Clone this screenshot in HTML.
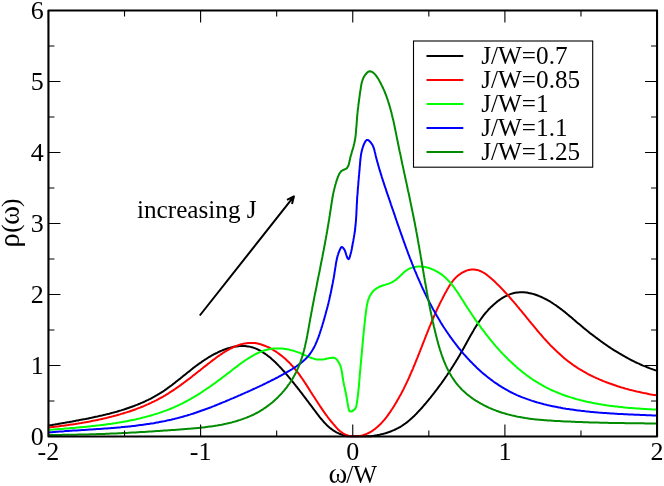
<!DOCTYPE html>
<html><head><meta charset="utf-8"><title>plot</title>
<style>
html,body{margin:0;padding:0;background:#fff;}
body{width:664px;height:486px;overflow:hidden;font-family:"Liberation Serif",serif;}
svg{display:block;will-change:transform;}
text{font-family:"Liberation Serif",serif;font-size:25.2px;fill:#000;}
.tk{font-size:26px;}
</style></head><body>
<svg width="664" height="486" viewBox="0 0 664 486">
<rect x="0" y="0" width="664" height="486" fill="#fff"/>

<g fill="none" stroke-width="2" stroke-linejoin="round" stroke-linecap="butt">
<path d="M49.1,425.6 L50.5,425.3 L51.9,425.1 L53.3,424.8 L54.8,424.6 L56.2,424.3 L57.6,424.1 L59.0,423.8 L60.5,423.5 L61.9,423.3 L63.4,423.0 L64.8,422.8 L66.3,422.5 L67.7,422.2 L69.2,422.0 L70.7,421.7 L72.1,421.5 L73.6,421.2 L75.1,420.9 L76.6,420.6 L78.0,420.4 L79.5,420.1 L81.0,419.8 L82.5,419.5 L84.0,419.2 L85.5,419.0 L87.0,418.7 L88.5,418.4 L89.9,418.1 L91.4,417.8 L92.9,417.4 L94.4,417.1 L95.9,416.8 L97.4,416.5 L98.9,416.1 L100.4,415.8 L101.9,415.5 L103.4,415.1 L104.9,414.8 L106.3,414.4 L107.8,414.0 L109.3,413.7 L110.8,413.3 L112.3,412.9 L113.7,412.5 L115.2,412.1 L116.7,411.7 L118.1,411.2 L119.6,410.8 L121.1,410.4 L122.5,409.9 L124.0,409.5 L125.4,409.0 L126.8,408.5 L128.3,408.0 L129.7,407.5 L131.1,407.0 L132.6,406.5 L134.0,406.0 L135.4,405.4 L136.8,404.9 L138.2,404.3 L139.6,403.8 L140.9,403.2 L142.3,402.6 L143.7,402.0 L145.0,401.4 L146.4,400.7 L147.7,400.1 L149.1,399.4 L150.4,398.8 L151.7,398.1 L153.0,397.4 L154.3,396.7 L155.6,395.9 L156.9,395.2 L158.2,394.4 L159.4,393.7 L160.7,392.9 L161.9,392.1 L163.2,391.3 L164.4,390.5 L165.6,389.6 L166.8,388.8 L168.0,387.9 L169.2,387.0 L170.4,386.2 L171.6,385.3 L172.7,384.4 L173.9,383.5 L175.1,382.6 L176.3,381.6 L177.4,380.7 L178.6,379.8 L179.8,378.9 L180.9,377.9 L182.1,377.0 L183.2,376.0 L184.4,375.1 L185.6,374.2 L186.7,373.2 L187.9,372.3 L189.1,371.4 L190.3,370.4 L191.4,369.5 L192.6,368.6 L193.8,367.6 L195.0,366.7 L196.2,365.8 L197.5,364.9 L198.7,364.0 L199.9,363.1 L201.2,362.3 L202.4,361.4 L203.7,360.5 L205.0,359.7 L206.3,358.9 L207.6,358.0 L208.9,357.2 L210.2,356.5 L211.5,355.7 L212.9,354.9 L214.2,354.2 L215.6,353.5 L217.0,352.8 L218.3,352.1 L219.7,351.5 L221.1,350.9 L222.5,350.3 L223.9,349.8 L225.3,349.2 L226.7,348.7 L228.1,348.3 L229.6,347.9 L231.0,347.5 L232.4,347.1 L233.8,346.8 L235.2,346.6 L236.6,346.4 L238.0,346.2 L239.4,346.1 L240.9,346.0 L242.3,346.0 L243.6,346.0 L245.0,346.0 L246.4,346.2 L247.8,346.4 L249.2,346.6 L250.5,346.9 L251.9,347.2 L253.2,347.6 L254.6,348.1 L255.9,348.6 L257.2,349.2 L258.5,349.8 L259.8,350.5 L261.1,351.2 L262.4,352.0 L263.6,352.8 L264.9,353.6 L266.1,354.5 L267.4,355.4 L268.6,356.4 L269.8,357.3 L271.0,358.3 L272.2,359.4 L273.4,360.4 L274.5,361.5 L275.7,362.6 L276.8,363.8 L278.0,364.9 L279.1,366.1 L280.2,367.2 L281.3,368.4 L282.3,369.6 L283.4,370.8 L284.5,372.0 L285.5,373.2 L286.5,374.4 L287.6,375.6 L288.6,376.8 L289.5,378.0 L290.5,379.1 L291.5,380.3 L292.4,381.5 L293.4,382.6 L294.3,383.8 L295.2,384.9 L296.1,386.1 L297.0,387.2 L297.9,388.4 L298.8,389.5 L299.7,390.7 L300.6,391.8 L301.5,393.0 L302.4,394.1 L303.2,395.3 L304.1,396.4 L305.0,397.6 L305.8,398.7 L306.7,399.9 L307.6,401.0 L308.5,402.2 L309.3,403.4 L310.2,404.5 L311.1,405.7 L312.0,406.9 L312.9,408.1 L313.8,409.3 L314.7,410.5 L315.6,411.7 L316.5,412.9 L317.4,414.2 L318.4,415.4 L319.3,416.6 L320.3,417.8 L321.3,419.0 L322.3,420.2 L323.3,421.3 L324.3,422.5 L325.4,423.6 L326.4,424.7 L327.5,425.7 L328.6,426.7 L329.7,427.7 L330.9,428.6 L332.1,429.5 L333.2,430.4 L334.5,431.2 L335.7,431.9 L337.0,432.6 L338.3,433.2 L339.6,433.8 L340.9,434.3 L342.3,434.8 L343.7,435.2 L345.1,435.6 L346.5,435.9 L347.9,436.2 L349.4,436.2 L350.9,436.2 L352.3,436.2 L353.8,436.2 L355.3,436.2 L356.9,436.2 L358.4,436.2 L359.9,436.2 L361.4,436.2 L363.0,436.2 L364.5,436.2 L366.1,436.2 L367.6,436.2 L369.1,436.2 L370.7,436.2 L372.2,436.0 L373.7,435.8 L375.2,435.5 L376.7,435.3 L378.2,435.0 L379.7,434.7 L381.2,434.3 L382.6,434.0 L384.1,433.6 L385.5,433.2 L386.9,432.7 L388.4,432.3 L389.8,431.8 L391.1,431.3 L392.5,430.7 L393.9,430.1 L395.2,429.5 L396.5,428.9 L397.9,428.2 L399.1,427.5 L400.4,426.8 L401.7,426.0 L402.9,425.2 L404.1,424.3 L405.3,423.5 L406.5,422.6 L407.7,421.7 L408.8,420.7 L410.0,419.8 L411.1,418.8 L412.2,417.8 L413.3,416.7 L414.4,415.7 L415.5,414.6 L416.6,413.5 L417.6,412.4 L418.6,411.3 L419.7,410.2 L420.7,409.1 L421.7,408.0 L422.7,406.8 L423.7,405.7 L424.7,404.5 L425.7,403.4 L426.7,402.2 L427.6,401.1 L428.6,399.9 L429.5,398.7 L430.5,397.6 L431.4,396.4 L432.4,395.2 L433.3,394.0 L434.2,392.9 L435.1,391.7 L436.0,390.5 L436.9,389.3 L437.8,388.1 L438.7,386.9 L439.6,385.7 L440.5,384.5 L441.4,383.3 L442.2,382.1 L443.1,380.9 L443.9,379.7 L444.8,378.5 L445.6,377.2 L446.5,376.0 L447.3,374.8 L448.1,373.5 L449.0,372.3 L449.8,371.1 L450.6,369.8 L451.4,368.6 L452.2,367.3 L453.0,366.1 L453.8,364.8 L454.6,363.5 L455.4,362.3 L456.1,361.0 L456.9,359.7 L457.7,358.4 L458.4,357.2 L459.2,355.9 L460.0,354.6 L460.7,353.3 L461.5,352.0 L462.2,350.7 L462.9,349.4 L463.7,348.0 L464.4,346.7 L465.1,345.4 L465.9,344.1 L466.6,342.7 L467.3,341.4 L468.1,340.1 L468.8,338.8 L469.5,337.4 L470.3,336.1 L471.0,334.8 L471.8,333.5 L472.5,332.2 L473.3,330.9 L474.0,329.6 L474.8,328.3 L475.6,327.0 L476.4,325.7 L477.2,324.4 L478.0,323.2 L478.9,321.9 L479.7,320.7 L480.6,319.5 L481.4,318.3 L482.3,317.1 L483.2,315.9 L484.1,314.7 L485.1,313.5 L486.0,312.4 L487.0,311.3 L488.0,310.1 L489.0,309.0 L490.1,308.0 L491.1,306.9 L492.2,305.9 L493.3,304.9 L494.4,303.9 L495.6,302.9 L496.8,301.9 L498.0,301.0 L499.2,300.1 L500.5,299.2 L501.7,298.4 L503.0,297.6 L504.3,296.9 L505.7,296.2 L507.0,295.5 L508.4,294.9 L509.7,294.4 L511.1,293.9 L512.5,293.4 L513.9,293.1 L515.3,292.8 L516.8,292.5 L518.2,292.4 L519.6,292.3 L521.1,292.2 L522.5,292.2 L524.0,292.3 L525.4,292.4 L526.9,292.6 L528.4,292.9 L529.8,293.2 L531.3,293.5 L532.7,293.9 L534.2,294.3 L535.6,294.8 L537.0,295.3 L538.5,295.8 L539.9,296.4 L541.3,297.0 L542.7,297.6 L544.1,298.3 L545.4,299.0 L546.8,299.7 L548.1,300.5 L549.5,301.2 L550.8,302.0 L552.1,302.8 L553.4,303.7 L554.6,304.5 L555.9,305.3 L557.1,306.2 L558.3,307.1 L559.5,308.0 L560.7,308.9 L561.9,309.8 L563.1,310.7 L564.3,311.6 L565.4,312.6 L566.6,313.5 L567.7,314.5 L568.9,315.4 L570.0,316.4 L571.2,317.3 L572.3,318.3 L573.4,319.3 L574.6,320.2 L575.7,321.2 L576.8,322.2 L578.0,323.2 L579.1,324.1 L580.3,325.1 L581.4,326.0 L582.6,327.0 L583.7,328.0 L584.9,328.9 L586.0,329.8 L587.2,330.8 L588.4,331.7 L589.5,332.7 L590.7,333.6 L591.9,334.5 L593.1,335.4 L594.3,336.3 L595.5,337.2 L596.7,338.1 L597.9,339.0 L599.1,339.9 L600.3,340.8 L601.5,341.7 L602.7,342.5 L603.9,343.4 L605.2,344.3 L606.4,345.1 L607.7,346.0 L608.9,346.8 L610.1,347.6 L611.4,348.5 L612.7,349.3 L613.9,350.1 L615.2,350.9 L616.5,351.7 L617.7,352.4 L619.0,353.2 L620.3,354.0 L621.6,354.7 L622.9,355.5 L624.2,356.2 L625.5,357.0 L626.8,357.7 L628.1,358.4 L629.5,359.1 L630.8,359.8 L632.1,360.5 L633.5,361.1 L634.8,361.8 L636.2,362.5 L637.5,363.1 L638.9,363.7 L640.2,364.3 L641.6,365.0 L643.0,365.6 L644.4,366.1 L645.8,366.7 L647.2,367.3 L648.6,367.8 L650.0,368.4 L651.4,368.9 L652.8,369.4 L654.2,369.9 L655.6,370.4 L657.1,370.9" stroke="#000"/>
<path d="M49.1,427.4 L50.5,427.3 L51.9,427.1 L53.4,426.9 L54.8,426.8 L56.2,426.6 L57.7,426.4 L59.1,426.2 L60.6,426.0 L62.0,425.8 L63.5,425.7 L64.9,425.5 L66.4,425.3 L67.9,425.1 L69.4,424.8 L70.8,424.6 L72.3,424.4 L73.8,424.2 L75.3,424.0 L76.7,423.7 L78.2,423.5 L79.7,423.2 L81.2,423.0 L82.7,422.7 L84.2,422.5 L85.7,422.2 L87.2,421.9 L88.7,421.7 L90.2,421.4 L91.7,421.1 L93.2,420.8 L94.7,420.5 L96.2,420.2 L97.7,419.9 L99.2,419.6 L100.6,419.2 L102.1,418.9 L103.6,418.6 L105.1,418.2 L106.6,417.9 L108.1,417.5 L109.6,417.1 L111.1,416.8 L112.5,416.4 L114.0,416.0 L115.5,415.6 L117.0,415.2 L118.4,414.8 L119.9,414.4 L121.4,413.9 L122.8,413.5 L124.3,413.0 L125.7,412.6 L127.2,412.1 L128.6,411.7 L130.1,411.2 L131.5,410.7 L132.9,410.2 L134.4,409.7 L135.8,409.2 L137.2,408.6 L138.6,408.1 L140.0,407.6 L141.4,407.0 L142.8,406.5 L144.2,405.9 L145.5,405.3 L146.9,404.7 L148.3,404.1 L149.6,403.5 L151.0,402.9 L152.3,402.2 L153.7,401.6 L155.0,400.9 L156.3,400.3 L157.6,399.6 L158.9,398.9 L160.2,398.2 L161.5,397.5 L162.8,396.8 L164.0,396.0 L165.3,395.3 L166.5,394.5 L167.8,393.8 L169.0,393.0 L170.2,392.2 L171.5,391.4 L172.7,390.6 L173.9,389.8 L175.1,389.0 L176.3,388.2 L177.5,387.3 L178.7,386.5 L179.9,385.6 L181.1,384.8 L182.3,383.9 L183.5,383.0 L184.7,382.2 L185.8,381.3 L187.0,380.4 L188.2,379.5 L189.4,378.6 L190.6,377.7 L191.8,376.8 L192.9,375.8 L194.1,374.9 L195.3,374.0 L196.5,373.0 L197.7,372.1 L198.9,371.1 L200.1,370.2 L201.3,369.2 L202.5,368.3 L203.7,367.3 L204.9,366.4 L206.2,365.4 L207.4,364.4 L208.6,363.5 L209.9,362.5 L211.1,361.5 L212.3,360.6 L213.6,359.6 L214.9,358.7 L216.1,357.7 L217.4,356.8 L218.7,355.9 L220.0,355.0 L221.2,354.1 L222.5,353.3 L223.8,352.4 L225.1,351.6 L226.4,350.8 L227.8,350.1 L229.1,349.3 L230.4,348.6 L231.7,348.0 L233.1,347.3 L234.4,346.7 L235.7,346.2 L237.1,345.6 L238.4,345.1 L239.8,344.7 L241.1,344.3 L242.5,344.0 L243.9,343.6 L245.2,343.4 L246.6,343.2 L248.0,343.0 L249.4,342.9 L250.7,342.9 L252.1,342.9 L253.5,343.0 L254.9,343.1 L256.3,343.3 L257.7,343.6 L259.1,343.9 L260.5,344.3 L261.9,344.7 L263.3,345.2 L264.7,345.7 L266.1,346.3 L267.5,346.9 L268.9,347.5 L270.2,348.2 L271.6,349.0 L272.9,349.7 L274.2,350.6 L275.6,351.4 L276.9,352.3 L278.2,353.2 L279.4,354.1 L280.7,355.1 L281.9,356.0 L283.1,357.0 L284.3,358.1 L285.5,359.1 L286.7,360.2 L287.8,361.2 L288.9,362.3 L290.0,363.4 L291.0,364.5 L292.0,365.6 L293.1,366.8 L294.0,367.9 L295.0,369.0 L295.9,370.2 L296.9,371.4 L297.8,372.5 L298.7,373.7 L299.6,374.9 L300.4,376.1 L301.3,377.3 L302.1,378.5 L303.0,379.7 L303.8,380.9 L304.6,382.2 L305.4,383.4 L306.2,384.6 L307.0,385.9 L307.8,387.1 L308.6,388.4 L309.4,389.6 L310.2,390.9 L311.0,392.2 L311.8,393.4 L312.6,394.7 L313.4,396.0 L314.3,397.2 L315.1,398.5 L315.9,399.8 L316.7,401.0 L317.5,402.3 L318.3,403.6 L319.2,404.8 L320.0,406.1 L320.9,407.4 L321.7,408.6 L322.6,409.9 L323.4,411.1 L324.3,412.4 L325.2,413.6 L326.1,414.8 L327.0,416.0 L327.9,417.3 L328.8,418.5 L329.7,419.7 L330.7,420.9 L331.6,422.0 L332.6,423.2 L333.6,424.4 L334.6,425.5 L335.6,426.7 L336.6,427.8 L337.6,428.9 L338.7,429.9 L339.8,430.9 L340.9,431.8 L342.1,432.7 L343.3,433.5 L344.5,434.2 L345.8,434.8 L347.1,435.3 L348.5,435.8 L349.9,436.1 L351.4,436.2 L352.8,436.2 L354.3,436.2 L355.8,436.2 L357.3,436.2 L358.8,436.1 L360.3,435.9 L361.7,435.6 L363.1,435.2 L364.5,434.7 L365.9,434.2 L367.2,433.6 L368.5,433.0 L369.8,432.3 L371.1,431.6 L372.3,430.9 L373.5,430.0 L374.7,429.2 L375.8,428.3 L377.0,427.3 L378.1,426.3 L379.2,425.3 L380.3,424.3 L381.3,423.2 L382.3,422.1 L383.3,420.9 L384.3,419.8 L385.3,418.6 L386.3,417.4 L387.2,416.2 L388.1,414.9 L389.0,413.6 L389.9,412.4 L390.8,411.1 L391.6,409.8 L392.5,408.5 L393.3,407.2 L394.1,405.9 L394.9,404.6 L395.7,403.3 L396.5,401.9 L397.3,400.6 L398.0,399.3 L398.8,398.0 L399.5,396.6 L400.3,395.3 L401.0,394.0 L401.7,392.6 L402.4,391.3 L403.1,390.0 L403.8,388.6 L404.4,387.3 L405.1,385.9 L405.7,384.6 L406.4,383.2 L407.0,381.9 L407.7,380.5 L408.3,379.2 L408.9,377.8 L409.5,376.5 L410.1,375.1 L410.7,373.7 L411.3,372.4 L411.9,371.0 L412.5,369.6 L413.1,368.3 L413.6,366.9 L414.2,365.5 L414.8,364.2 L415.3,362.8 L415.9,361.4 L416.5,360.0 L417.0,358.7 L417.6,357.3 L418.1,355.9 L418.7,354.5 L419.2,353.2 L419.7,351.8 L420.3,350.4 L420.8,349.0 L421.4,347.6 L421.9,346.3 L422.4,344.9 L423.0,343.5 L423.5,342.1 L424.1,340.7 L424.6,339.4 L425.1,338.0 L425.7,336.6 L426.2,335.2 L426.8,333.8 L427.3,332.5 L427.9,331.1 L428.4,329.7 L429.0,328.3 L429.5,326.9 L430.1,325.6 L430.7,324.2 L431.2,322.8 L431.8,321.4 L432.4,320.0 L433.0,318.7 L433.6,317.3 L434.2,315.9 L434.8,314.6 L435.4,313.2 L436.0,311.8 L436.6,310.4 L437.2,309.1 L437.9,307.7 L438.5,306.4 L439.2,305.0 L439.8,303.6 L440.5,302.3 L441.2,300.9 L441.9,299.6 L442.6,298.2 L443.3,296.8 L444.0,295.5 L444.7,294.1 L445.4,292.8 L446.2,291.5 L446.9,290.1 L447.7,288.8 L448.5,287.4 L449.3,286.1 L450.1,284.8 L451.0,283.5 L451.8,282.3 L452.8,281.0 L453.7,279.8 L454.7,278.7 L455.8,277.6 L456.9,276.5 L458.1,275.5 L459.3,274.6 L460.6,273.7 L461.9,272.9 L463.2,272.1 L464.6,271.5 L465.9,270.9 L467.3,270.4 L468.7,270.0 L470.1,269.7 L471.5,269.5 L472.8,269.5 L474.2,269.5 L475.5,269.7 L476.9,269.9 L478.2,270.2 L479.4,270.7 L480.7,271.2 L482.0,271.8 L483.2,272.5 L484.4,273.2 L485.7,274.0 L486.9,274.9 L488.0,275.8 L489.2,276.7 L490.4,277.7 L491.5,278.7 L492.7,279.7 L493.8,280.8 L494.9,281.8 L496.0,282.9 L497.1,284.0 L498.2,285.0 L499.3,286.1 L500.4,287.2 L501.4,288.3 L502.5,289.4 L503.5,290.5 L504.6,291.7 L505.6,292.8 L506.7,293.9 L507.7,295.0 L508.7,296.2 L509.7,297.3 L510.7,298.5 L511.7,299.6 L512.7,300.8 L513.7,301.9 L514.7,303.1 L515.7,304.2 L516.6,305.4 L517.6,306.6 L518.6,307.7 L519.5,308.9 L520.5,310.1 L521.5,311.2 L522.4,312.4 L523.4,313.6 L524.3,314.7 L525.3,315.9 L526.3,317.1 L527.2,318.3 L528.2,319.4 L529.1,320.6 L530.1,321.8 L531.0,322.9 L532.0,324.1 L532.9,325.2 L533.9,326.4 L534.9,327.6 L535.8,328.7 L536.8,329.9 L537.7,331.0 L538.7,332.1 L539.7,333.3 L540.7,334.4 L541.6,335.5 L542.6,336.6 L543.6,337.8 L544.6,338.9 L545.6,340.0 L546.6,341.1 L547.6,342.2 L548.6,343.2 L549.6,344.3 L550.6,345.4 L551.7,346.4 L552.7,347.5 L553.8,348.5 L554.8,349.6 L555.9,350.6 L556.9,351.6 L558.0,352.6 L559.1,353.6 L560.2,354.6 L561.3,355.6 L562.4,356.6 L563.5,357.5 L564.6,358.5 L565.8,359.4 L566.9,360.3 L568.1,361.2 L569.3,362.1 L570.5,363.0 L571.7,363.9 L572.9,364.8 L574.1,365.6 L575.3,366.4 L576.6,367.3 L577.8,368.1 L579.1,368.9 L580.4,369.6 L581.7,370.4 L583.0,371.2 L584.3,371.9 L585.6,372.6 L586.9,373.4 L588.2,374.1 L589.6,374.8 L590.9,375.5 L592.3,376.1 L593.7,376.8 L595.0,377.4 L596.4,378.1 L597.8,378.7 L599.2,379.3 L600.6,379.9 L602.0,380.5 L603.4,381.1 L604.8,381.6 L606.3,382.2 L607.7,382.7 L609.1,383.3 L610.6,383.8 L612.0,384.3 L613.4,384.8 L614.9,385.3 L616.3,385.8 L617.8,386.3 L619.2,386.7 L620.7,387.2 L622.1,387.6 L623.6,388.0 L625.1,388.5 L626.5,388.9 L628.0,389.3 L629.4,389.7 L630.9,390.0 L632.4,390.4 L633.8,390.8 L635.3,391.1 L636.7,391.5 L638.2,391.8 L639.6,392.1 L641.1,392.4 L642.5,392.8 L644.0,393.1 L645.4,393.3 L646.8,393.6 L648.3,393.9 L649.7,394.2 L651.1,394.4 L652.5,394.7 L653.9,394.9 L655.3,395.1 L656.7,395.4" stroke="#f00"/>
<path d="M49.1,430.0 L50.5,429.8 L52.0,429.7 L53.4,429.6 L54.9,429.5 L56.3,429.3 L57.8,429.2 L59.3,429.1 L60.7,429.0 L62.2,428.9 L63.7,428.7 L65.1,428.6 L66.6,428.5 L68.1,428.4 L69.6,428.2 L71.1,428.1 L72.6,428.0 L74.0,427.9 L75.5,427.7 L77.0,427.6 L78.5,427.5 L80.0,427.3 L81.5,427.2 L83.0,427.0 L84.5,426.9 L86.0,426.7 L87.5,426.6 L89.0,426.4 L90.5,426.3 L92.0,426.1 L93.5,426.0 L95.0,425.8 L96.6,425.6 L98.1,425.4 L99.6,425.3 L101.1,425.1 L102.6,424.9 L104.1,424.7 L105.6,424.5 L107.1,424.3 L108.6,424.1 L110.1,423.9 L111.6,423.7 L113.1,423.4 L114.6,423.2 L116.1,423.0 L117.6,422.7 L119.1,422.5 L120.6,422.2 L122.1,422.0 L123.6,421.7 L125.1,421.5 L126.6,421.2 L128.1,420.9 L129.6,420.6 L131.1,420.3 L132.5,420.0 L134.0,419.7 L135.5,419.4 L137.0,419.0 L138.4,418.7 L139.9,418.4 L141.4,418.0 L142.8,417.6 L144.3,417.3 L145.7,416.9 L147.2,416.5 L148.6,416.1 L150.1,415.7 L151.5,415.3 L153.0,414.9 L154.4,414.4 L155.8,414.0 L157.3,413.6 L158.7,413.1 L160.1,412.6 L161.5,412.1 L162.9,411.6 L164.3,411.1 L165.7,410.6 L167.1,410.1 L168.5,409.6 L169.9,409.0 L171.2,408.5 L172.6,407.9 L174.0,407.3 L175.3,406.7 L176.7,406.1 L178.0,405.5 L179.4,404.9 L180.7,404.2 L182.0,403.6 L183.3,402.9 L184.7,402.2 L186.0,401.5 L187.3,400.8 L188.6,400.1 L189.9,399.4 L191.2,398.7 L192.4,397.9 L193.7,397.2 L195.0,396.4 L196.3,395.6 L197.5,394.9 L198.8,394.1 L200.0,393.3 L201.3,392.5 L202.5,391.7 L203.8,390.8 L205.0,390.0 L206.3,389.2 L207.5,388.3 L208.7,387.5 L210.0,386.6 L211.2,385.7 L212.4,384.9 L213.7,384.0 L214.9,383.1 L216.1,382.2 L217.3,381.3 L218.5,380.4 L219.8,379.5 L221.0,378.6 L222.2,377.7 L223.4,376.8 L224.6,375.9 L225.8,374.9 L227.0,374.0 L228.2,373.1 L229.5,372.2 L230.7,371.2 L231.9,370.3 L233.1,369.3 L234.3,368.4 L235.5,367.5 L236.7,366.6 L238.0,365.6 L239.2,364.7 L240.4,363.8 L241.6,362.9 L242.9,362.0 L244.1,361.2 L245.4,360.3 L246.6,359.5 L247.9,358.6 L249.1,357.8 L250.4,357.1 L251.7,356.3 L253.0,355.6 L254.2,354.9 L255.5,354.2 L256.9,353.5 L258.2,352.9 L259.5,352.3 L260.8,351.8 L262.2,351.3 L263.5,350.8 L264.9,350.3 L266.3,349.9 L267.7,349.6 L269.1,349.3 L270.5,349.0 L271.9,348.8 L273.4,348.6 L274.9,348.5 L276.3,348.4 L277.8,348.4 L279.3,348.4 L280.8,348.5 L282.4,348.6 L283.9,348.8 L285.4,349.0 L286.9,349.2 L288.5,349.5 L290.0,349.9 L291.5,350.2 L293.0,350.6 L294.5,351.1 L296.0,351.6 L297.5,352.1 L299.0,352.6 L300.4,353.2 L301.8,353.8 L303.2,354.4 L304.6,355.1 L306.0,355.7 L307.4,356.3 L308.7,356.9 L310.1,357.4 L311.4,358.0 L312.8,358.4 L314.2,358.8 L315.5,359.2 L316.9,359.4 L318.3,359.6 L319.8,359.6 L321.2,359.6 L322.7,359.4 L324.2,359.2 L325.7,358.9 L327.2,358.6 L328.8,358.2 L330.4,357.9 L332.0,357.7 L333.5,357.6 L334.9,358.0 L336.1,358.8 L337.1,359.9 L338.0,361.2 L338.8,362.5 L339.5,363.8 L340.1,365.2 L340.6,366.5 L341.0,368.0 L341.4,369.4 L341.7,370.9 L342.0,372.3 L342.2,373.8 L342.4,375.3 L342.6,376.8 L342.8,378.3 L343.1,379.8 L343.3,381.3 L343.6,382.8 L343.9,384.3 L344.2,385.8 L344.6,387.3 L344.9,388.7 L346.1,394.5 L348.6,408.9 L349.4,411.2 L351.6,411.6 L355.2,408.9 L356.4,405.9 L357.6,398.1 L358.8,387.2 L359.4,380.0 L360.2,370.1 L360.4,368.6 L360.5,367.1 L360.6,365.6 L360.8,364.1 L360.9,362.6 L361.0,361.1 L361.2,359.6 L361.3,358.2 L361.5,356.7 L361.6,355.2 L361.7,353.7 L361.9,352.2 L362.0,350.7 L362.1,349.2 L362.3,347.7 L362.4,346.2 L362.5,344.7 L362.7,343.2 L362.8,341.7 L362.9,340.2 L363.1,338.8 L363.2,337.3 L363.4,335.8 L363.5,334.3 L363.7,332.8 L363.8,331.3 L363.9,329.8 L364.1,328.3 L364.3,326.8 L364.4,325.3 L364.6,323.8 L364.7,322.3 L364.9,320.8 L365.1,319.4 L365.2,317.9 L365.4,316.4 L365.6,314.9 L365.8,313.4 L366.0,311.9 L366.2,310.4 L366.4,308.9 L366.6,307.4 L366.8,305.9 L367.1,304.5 L367.4,303.0 L367.8,301.5 L368.2,300.1 L368.7,298.7 L369.3,297.3 L369.9,295.9 L370.7,294.6 L371.5,293.4 L372.4,292.2 L373.4,291.0 L374.4,290.0 L375.6,289.1 L376.8,288.2 L378.0,287.5 L379.4,286.8 L380.7,286.3 L382.1,285.8 L383.6,285.3 L385.0,284.9 L386.5,284.4 L388.0,283.9 L389.4,283.4 L390.8,282.8 L392.2,282.2 L393.5,281.4 L394.8,280.5 L396.1,279.6 L397.3,278.5 L398.5,277.5 L399.7,276.4 L400.8,275.3 L402.0,274.2 L403.2,273.1 L404.3,272.1 L405.5,271.1 L406.8,270.2 L408.0,269.4 L409.3,268.7 L410.7,268.1 L412.1,267.6 L413.5,267.2 L414.9,266.9 L416.3,266.7 L417.8,266.6 L419.2,266.5 L420.7,266.5 L422.2,266.7 L423.7,266.8 L425.2,267.1 L426.7,267.4 L428.1,267.8 L429.6,268.2 L431.0,268.7 L432.4,269.3 L433.8,269.9 L435.2,270.6 L436.5,271.3 L437.8,272.0 L439.1,272.8 L440.3,273.6 L441.5,274.4 L442.7,275.3 L443.8,276.2 L444.9,277.2 L446.0,278.2 L447.0,279.2 L448.0,280.2 L449.0,281.3 L450.0,282.3 L451.0,283.4 L451.9,284.6 L452.8,285.7 L453.7,286.9 L454.6,288.1 L455.4,289.3 L456.3,290.5 L457.1,291.7 L458.0,292.9 L458.8,294.2 L459.6,295.5 L460.4,296.7 L461.2,298.0 L462.0,299.3 L462.8,300.5 L463.6,301.8 L464.4,303.1 L465.3,304.4 L466.1,305.7 L466.9,306.9 L467.7,308.2 L468.6,309.5 L469.4,310.8 L470.2,312.0 L471.1,313.3 L471.9,314.6 L472.8,315.8 L473.6,317.1 L474.5,318.4 L475.3,319.6 L476.2,320.9 L477.1,322.1 L478.0,323.3 L478.9,324.6 L479.8,325.8 L480.6,327.1 L481.5,328.3 L482.5,329.5 L483.4,330.7 L484.3,331.9 L485.2,333.1 L486.1,334.3 L487.1,335.5 L488.0,336.7 L489.0,337.9 L489.9,339.1 L490.9,340.3 L491.8,341.4 L492.8,342.6 L493.8,343.8 L494.7,344.9 L495.7,346.1 L496.7,347.2 L497.7,348.3 L498.7,349.4 L499.7,350.6 L500.7,351.7 L501.8,352.8 L502.8,353.9 L503.8,354.9 L504.9,356.0 L505.9,357.1 L507.0,358.1 L508.0,359.2 L509.1,360.2 L510.2,361.3 L511.3,362.3 L512.4,363.3 L513.4,364.3 L514.6,365.3 L515.7,366.3 L516.8,367.3 L517.9,368.2 L519.0,369.2 L520.2,370.1 L521.3,371.1 L522.5,372.0 L523.6,372.9 L524.8,373.8 L526.0,374.7 L527.2,375.6 L528.4,376.4 L529.6,377.3 L530.8,378.1 L532.0,379.0 L533.2,379.8 L534.4,380.6 L535.7,381.4 L536.9,382.2 L538.2,382.9 L539.4,383.7 L540.7,384.4 L542.0,385.2 L543.3,385.9 L544.6,386.6 L545.9,387.3 L547.2,387.9 L548.5,388.6 L549.9,389.3 L551.2,389.9 L552.5,390.5 L553.9,391.1 L555.3,391.7 L556.6,392.3 L558.0,392.8 L559.4,393.4 L560.8,393.9 L562.2,394.5 L563.6,395.0 L565.0,395.5 L566.4,396.0 L567.9,396.5 L569.3,396.9 L570.7,397.4 L572.2,397.8 L573.6,398.3 L575.1,398.7 L576.5,399.1 L578.0,399.5 L579.4,399.9 L580.9,400.3 L582.4,400.6 L583.9,401.0 L585.3,401.3 L586.8,401.7 L588.3,402.0 L589.8,402.3 L591.3,402.6 L592.8,402.9 L594.3,403.2 L595.8,403.5 L597.3,403.8 L598.8,404.1 L600.3,404.3 L601.8,404.6 L603.3,404.8 L604.8,405.0 L606.3,405.3 L607.8,405.5 L609.4,405.7 L610.9,405.9 L612.4,406.1 L613.9,406.3 L615.4,406.5 L616.9,406.6 L618.4,406.8 L619.9,407.0 L621.4,407.1 L622.9,407.3 L624.4,407.4 L625.9,407.6 L627.4,407.7 L628.9,407.9 L630.4,408.0 L631.9,408.1 L633.4,408.2 L634.9,408.3 L636.4,408.4 L637.9,408.5 L639.3,408.6 L640.8,408.7 L642.3,408.8 L643.7,408.9 L645.2,409.0 L646.6,409.1 L648.1,409.2 L649.5,409.2 L651.0,409.3 L652.4,409.4 L653.8,409.4 L655.3,409.5 L656.7,409.6" stroke="#0f0"/>
<path d="M49.1,432.4 L50.5,432.3 L52.0,432.2 L53.5,432.0 L55.0,431.9 L56.4,431.8 L57.9,431.7 L59.4,431.6 L60.9,431.5 L62.4,431.4 L63.9,431.3 L65.3,431.1 L66.8,431.0 L68.3,430.9 L69.8,430.8 L71.3,430.7 L72.8,430.6 L74.3,430.6 L75.8,430.5 L77.3,430.4 L78.8,430.3 L80.3,430.2 L81.8,430.1 L83.3,430.0 L84.8,429.9 L86.3,429.8 L87.8,429.7 L89.3,429.6 L90.8,429.5 L92.3,429.4 L93.8,429.3 L95.3,429.2 L96.8,429.1 L98.3,429.0 L99.8,428.9 L101.3,428.8 L102.8,428.7 L104.3,428.6 L105.8,428.5 L107.3,428.4 L108.8,428.3 L110.3,428.2 L111.8,428.0 L113.3,427.9 L114.8,427.8 L116.3,427.7 L117.8,427.5 L119.3,427.4 L120.8,427.3 L122.3,427.1 L123.8,427.0 L125.3,426.8 L126.8,426.7 L128.3,426.5 L129.8,426.4 L131.2,426.2 L132.7,426.0 L134.2,425.9 L135.7,425.7 L137.2,425.5 L138.7,425.3 L140.2,425.1 L141.7,424.9 L143.2,424.7 L144.7,424.5 L146.1,424.3 L147.6,424.1 L149.1,423.9 L150.6,423.6 L152.1,423.4 L153.5,423.2 L155.0,422.9 L156.5,422.6 L158.0,422.4 L159.4,422.1 L160.9,421.8 L162.4,421.5 L163.8,421.3 L165.3,421.0 L166.8,420.6 L168.2,420.3 L169.7,420.0 L171.1,419.7 L172.6,419.3 L174.1,419.0 L175.5,418.6 L177.0,418.3 L178.4,417.9 L179.8,417.5 L181.3,417.1 L182.7,416.7 L184.2,416.3 L185.6,415.9 L187.0,415.5 L188.5,415.0 L189.9,414.6 L191.3,414.1 L192.7,413.7 L194.2,413.2 L195.6,412.8 L197.0,412.3 L198.4,411.8 L199.8,411.3 L201.2,410.8 L202.6,410.3 L204.1,409.8 L205.5,409.3 L206.9,408.8 L208.3,408.2 L209.7,407.7 L211.1,407.2 L212.5,406.6 L213.9,406.1 L215.3,405.5 L216.6,405.0 L218.0,404.4 L219.4,403.8 L220.8,403.3 L222.2,402.7 L223.6,402.1 L225.0,401.6 L226.3,401.0 L227.7,400.4 L229.1,399.8 L230.5,399.2 L231.8,398.6 L233.2,398.1 L234.6,397.5 L236.0,396.9 L237.3,396.3 L238.7,395.7 L240.1,395.1 L241.4,394.5 L242.8,393.9 L244.1,393.3 L245.5,392.7 L246.9,392.1 L248.2,391.5 L249.6,390.9 L250.9,390.3 L252.3,389.7 L253.6,389.0 L255.0,388.4 L256.3,387.8 L257.7,387.2 L259.0,386.6 L260.4,385.9 L261.7,385.3 L263.1,384.6 L264.4,384.0 L265.7,383.4 L267.1,382.7 L268.4,382.0 L269.8,381.4 L271.1,380.7 L272.4,380.0 L273.8,379.3 L275.1,378.7 L276.4,378.0 L277.7,377.3 L279.1,376.5 L280.4,375.8 L281.7,375.1 L283.0,374.4 L284.4,373.6 L285.7,372.9 L287.0,372.1 L288.3,371.3 L289.6,370.6 L290.9,369.8 L292.3,369.0 L293.6,368.2 L294.8,367.3 L296.1,366.5 L297.4,365.6 L298.6,364.8 L299.8,363.9 L301.0,362.9 L302.2,362.0 L303.3,361.0 L304.4,360.0 L305.5,359.0 L306.5,358.0 L307.5,356.9 L308.5,355.8 L309.4,354.6 L310.3,353.5 L311.1,352.3 L311.9,351.0 L312.7,349.8 L313.4,348.5 L314.1,347.2 L314.8,345.9 L315.4,344.6 L316.0,343.2 L316.6,341.8 L317.2,340.4 L317.7,339.0 L318.3,337.6 L318.8,336.2 L319.3,334.8 L319.8,333.3 L320.2,331.9 L320.7,330.5 L321.2,329.0 L321.6,327.6 L322.1,326.1 L322.5,324.7 L322.9,323.2 L323.4,321.8 L323.8,320.3 L324.2,318.9 L324.6,317.4 L325.0,316.0 L325.5,314.5 L325.8,313.1 L326.2,311.6 L326.6,310.2 L327.0,308.7 L327.4,307.3 L327.8,305.8 L328.1,304.4 L328.5,302.9 L328.8,301.4 L329.2,300.0 L329.5,298.5 L329.8,297.1 L330.2,295.6 L330.5,294.1 L330.8,292.7 L331.1,291.2 L331.4,289.7 L331.7,288.3 L332.0,286.8 L332.3,285.3 L332.6,283.9 L332.9,282.4 L333.1,280.9 L333.4,279.5 L333.7,278.0 L333.9,276.5 L334.2,275.1 L334.4,273.6 L334.6,272.1 L334.9,270.6 L335.1,269.1 L335.3,267.7 L335.6,266.2 L335.8,264.7 L336.0,263.2 L336.3,261.8 L336.6,260.3 L336.9,258.8 L337.2,257.4 L337.6,255.9 L338.1,254.5 L338.5,253.0 L339.1,251.6 L339.7,250.2 L340.3,248.8 L341.0,247.5 L342.0,247.0 L343.1,247.8 L344.2,249.3 L345.0,250.9 L345.5,252.3 L345.9,253.6 L346.3,255.0 L346.8,256.5 L347.5,258.1 L348.4,259.1 L349.2,258.6 L349.8,256.9 L350.3,255.1 L350.8,253.3 L351.2,251.8 L351.5,250.3 L351.8,249.0 L352.0,247.6 L352.3,246.3 L352.5,245.0 L352.7,243.7 L353.0,242.3 L353.3,240.9 L353.5,239.4 L353.8,237.9 L354.0,236.4 L354.3,234.9 L354.5,233.3 L354.8,231.8 L355.0,230.3 L355.2,228.7 L355.3,227.2 L355.5,225.7 L355.6,224.2 L355.8,222.7 L355.9,221.2 L356.0,219.7 L356.1,218.2 L356.2,216.7 L356.3,215.2 L356.4,213.7 L356.4,212.2 L356.5,210.8 L356.6,209.3 L356.7,207.8 L356.7,206.3 L356.8,204.8 L356.9,203.4 L357.0,201.9 L357.1,200.4 L357.1,198.9 L357.2,197.4 L357.3,195.9 L357.5,194.4 L357.6,192.9 L357.7,191.4 L357.8,189.9 L357.9,188.4 L358.0,186.9 L358.2,185.4 L358.3,183.9 L358.4,182.4 L358.5,180.9 L358.7,179.4 L358.8,177.9 L358.9,176.4 L359.1,174.9 L359.2,173.4 L359.3,171.9 L359.5,170.5 L359.6,169.0 L359.7,167.5 L359.8,166.0 L360.0,164.5 L360.1,163.0 L360.2,161.5 L360.4,160.0 L360.5,158.6 L360.7,157.1 L360.9,155.6 L361.1,154.1 L361.4,152.7 L361.7,151.2 L362.1,149.7 L362.5,148.3 L363.0,146.8 L363.5,145.4 L364.1,143.9 L364.8,142.5 L365.6,141.1 L366.5,140.1 L367.6,139.9 L368.8,140.5 L370.1,141.7 L371.2,143.1 L372.2,144.5 L372.9,145.9 L373.5,147.3 L374.0,148.7 L374.4,150.1 L374.7,151.5 L375.1,152.9 L375.4,154.3 L375.7,155.7 L376.1,157.2 L376.4,158.6 L376.8,160.0 L377.2,161.4 L377.6,162.8 L378.0,164.2 L378.4,165.7 L378.8,167.1 L379.2,168.5 L379.6,169.9 L380.1,171.3 L380.5,172.8 L380.9,174.2 L381.4,175.6 L381.8,177.1 L382.3,178.5 L382.7,179.9 L383.2,181.3 L383.7,182.8 L384.1,184.2 L384.6,185.6 L385.1,187.1 L385.6,188.5 L386.1,189.9 L386.5,191.4 L387.0,192.8 L387.5,194.3 L388.0,195.7 L388.5,197.1 L389.0,198.6 L389.5,200.0 L390.0,201.4 L390.5,202.9 L390.9,204.3 L391.4,205.7 L391.9,207.2 L392.4,208.6 L392.9,210.0 L393.4,211.5 L393.9,212.9 L394.4,214.3 L394.9,215.8 L395.3,217.2 L395.8,218.6 L396.3,220.0 L396.8,221.5 L397.3,222.9 L397.8,224.3 L398.3,225.8 L398.8,227.2 L399.3,228.6 L399.8,230.0 L400.3,231.5 L400.8,232.9 L401.3,234.3 L401.8,235.7 L402.3,237.1 L402.8,238.6 L403.3,240.0 L403.8,241.4 L404.3,242.8 L404.8,244.2 L405.3,245.6 L405.8,247.0 L406.3,248.4 L406.9,249.8 L407.4,251.3 L407.9,252.7 L408.4,254.1 L409.0,255.5 L409.5,256.9 L410.0,258.3 L410.6,259.7 L411.1,261.0 L411.7,262.4 L412.2,263.8 L412.8,265.2 L413.3,266.6 L413.9,268.0 L414.4,269.4 L415.0,270.8 L415.6,272.1 L416.2,273.5 L416.7,274.9 L417.3,276.3 L417.9,277.6 L418.5,279.0 L419.1,280.4 L419.7,281.7 L420.3,283.1 L420.9,284.4 L421.5,285.8 L422.1,287.2 L422.7,288.5 L423.4,289.9 L424.0,291.2 L424.6,292.5 L425.3,293.9 L425.9,295.2 L426.6,296.6 L427.2,297.9 L427.9,299.2 L428.6,300.6 L429.3,301.9 L429.9,303.2 L430.6,304.5 L431.3,305.8 L432.0,307.1 L432.7,308.5 L433.4,309.8 L434.2,311.1 L434.9,312.4 L435.6,313.7 L436.4,315.0 L437.1,316.3 L437.9,317.5 L438.6,318.8 L439.4,320.1 L440.2,321.4 L440.9,322.7 L441.7,323.9 L442.5,325.2 L443.3,326.5 L444.1,327.7 L445.0,329.0 L445.8,330.2 L446.6,331.5 L447.5,332.7 L448.3,334.0 L449.2,335.2 L450.0,336.4 L450.9,337.7 L451.8,338.9 L452.7,340.1 L453.6,341.3 L454.5,342.5 L455.4,343.7 L456.3,344.9 L457.3,346.1 L458.2,347.3 L459.1,348.5 L460.1,349.6 L461.1,350.8 L462.0,352.0 L463.0,353.1 L464.0,354.3 L465.0,355.4 L466.0,356.5 L467.0,357.7 L468.0,358.8 L469.1,359.9 L470.1,361.0 L471.1,362.1 L472.2,363.1 L473.3,364.2 L474.3,365.3 L475.4,366.3 L476.5,367.4 L477.6,368.4 L478.7,369.4 L479.8,370.4 L480.9,371.4 L482.0,372.4 L483.2,373.4 L484.3,374.4 L485.5,375.3 L486.6,376.3 L487.8,377.2 L489.0,378.1 L490.1,379.0 L491.3,379.9 L492.5,380.8 L493.7,381.7 L495.0,382.6 L496.2,383.4 L497.4,384.2 L498.7,385.1 L499.9,385.9 L501.2,386.7 L502.4,387.5 L503.7,388.2 L505.0,389.0 L506.3,389.7 L507.6,390.4 L508.9,391.1 L510.2,391.8 L511.5,392.5 L512.9,393.2 L514.2,393.8 L515.5,394.4 L516.9,395.1 L518.3,395.7 L519.6,396.2 L521.0,396.8 L522.4,397.4 L523.8,397.9 L525.2,398.4 L526.6,398.9 L528.0,399.4 L529.4,399.9 L530.8,400.4 L532.2,400.9 L533.7,401.3 L535.1,401.8 L536.6,402.2 L538.0,402.6 L539.4,403.0 L540.9,403.4 L542.4,403.8 L543.8,404.2 L545.3,404.5 L546.7,404.9 L548.2,405.2 L549.7,405.6 L551.2,405.9 L552.6,406.2 L554.1,406.5 L555.6,406.8 L557.1,407.1 L558.5,407.4 L560.0,407.6 L561.5,407.9 L563.0,408.2 L564.5,408.4 L565.9,408.7 L567.4,408.9 L568.9,409.1 L570.4,409.4 L571.9,409.6 L573.4,409.8 L574.8,410.0 L576.3,410.2 L577.8,410.4 L579.3,410.6 L580.8,410.8 L582.3,410.9 L583.8,411.1 L585.2,411.3 L586.7,411.4 L588.2,411.6 L589.7,411.7 L591.2,411.9 L592.7,412.0 L594.2,412.2 L595.7,412.3 L597.2,412.4 L598.7,412.6 L600.1,412.7 L601.6,412.8 L603.1,412.9 L604.6,413.0 L606.1,413.1 L607.6,413.2 L609.1,413.3 L610.6,413.4 L612.1,413.5 L613.6,413.6 L615.1,413.7 L616.6,413.8 L618.1,413.9 L619.6,413.9 L621.0,414.0 L622.5,414.1 L624.0,414.2 L625.5,414.2 L627.0,414.3 L628.5,414.4 L630.0,414.5 L631.5,414.5 L633.0,414.6 L634.5,414.7 L636.0,414.7 L637.5,414.8 L639.0,414.8 L640.5,414.9 L642.0,415.0 L643.5,415.0 L645.0,415.1 L646.5,415.2 L648.0,415.2 L649.5,415.3 L651.0,415.3 L652.5,415.4 L654.0,415.5 L655.5,415.5 L657.0,415.6" stroke="#00f"/>
<path d="M48.9,434.9 L50.4,434.9 L52.0,434.9 L53.5,434.9 L55.0,434.9 L56.6,434.9 L58.1,434.9 L59.7,434.9 L61.2,434.9 L62.7,434.8 L64.2,434.8 L65.8,434.8 L67.3,434.8 L68.8,434.8 L70.3,434.8 L71.8,434.7 L73.3,434.7 L74.8,434.7 L76.4,434.7 L77.9,434.6 L79.4,434.6 L80.9,434.6 L82.4,434.5 L83.9,434.5 L85.4,434.5 L86.9,434.4 L88.4,434.4 L89.8,434.3 L91.3,434.3 L92.8,434.3 L94.3,434.2 L95.8,434.2 L97.3,434.1 L98.8,434.1 L100.3,434.0 L101.7,434.0 L103.2,433.9 L104.7,433.9 L106.2,433.8 L107.7,433.7 L109.1,433.7 L110.6,433.6 L112.1,433.6 L113.6,433.5 L115.1,433.4 L116.5,433.4 L118.0,433.3 L119.5,433.2 L121.0,433.2 L122.4,433.1 L123.9,433.0 L125.4,432.9 L126.9,432.9 L128.3,432.8 L129.8,432.7 L131.3,432.6 L132.8,432.6 L134.2,432.5 L135.7,432.4 L137.2,432.3 L138.7,432.2 L140.2,432.1 L141.6,432.1 L143.1,432.0 L144.6,431.9 L146.1,431.8 L147.6,431.7 L149.0,431.6 L150.5,431.5 L152.0,431.4 L153.5,431.3 L155.0,431.2 L156.5,431.1 L158.0,431.0 L159.5,430.9 L161.0,430.8 L162.4,430.7 L163.9,430.6 L165.4,430.5 L166.9,430.4 L168.4,430.3 L169.9,430.2 L171.4,430.1 L173.0,430.0 L174.5,429.9 L176.0,429.8 L177.5,429.7 L179.0,429.5 L180.5,429.4 L182.0,429.3 L183.6,429.2 L185.1,429.1 L186.6,429.0 L188.1,428.8 L189.7,428.7 L191.2,428.6 L192.7,428.4 L194.2,428.3 L195.8,428.2 L197.3,428.0 L198.8,427.9 L200.3,427.7 L201.9,427.5 L203.4,427.4 L204.9,427.2 L206.4,427.0 L207.9,426.8 L209.5,426.6 L211.0,426.4 L212.5,426.2 L214.0,426.0 L215.5,425.7 L217.0,425.5 L218.5,425.2 L220.0,424.9 L221.5,424.7 L223.0,424.4 L224.4,424.1 L225.9,423.8 L227.4,423.4 L228.8,423.1 L230.3,422.7 L231.8,422.4 L233.2,422.0 L234.6,421.6 L236.1,421.2 L237.5,420.8 L238.9,420.3 L240.3,419.9 L241.7,419.4 L243.1,418.9 L244.5,418.4 L245.9,417.9 L247.3,417.3 L248.6,416.8 L250.0,416.2 L251.3,415.6 L252.7,415.0 L254.0,414.3 L255.3,413.7 L256.6,413.0 L257.9,412.3 L259.2,411.6 L260.4,410.8 L261.7,410.0 L263.0,409.3 L264.2,408.4 L265.4,407.6 L266.6,406.8 L267.8,405.9 L269.0,405.0 L270.2,404.1 L271.3,403.2 L272.5,402.2 L273.6,401.2 L274.7,400.2 L275.8,399.2 L276.9,398.2 L278.0,397.2 L279.0,396.1 L280.1,395.1 L281.1,394.0 L282.1,392.9 L283.1,391.7 L284.1,390.6 L285.0,389.4 L285.9,388.3 L286.9,387.1 L287.7,385.9 L288.6,384.7 L289.5,383.5 L290.3,382.2 L291.1,381.0 L291.9,379.7 L292.7,378.4 L293.5,377.1 L294.2,375.8 L294.9,374.5 L295.6,373.2 L296.3,371.9 L296.9,370.5 L297.5,369.2 L298.1,367.8 L298.7,366.4 L299.3,365.1 L299.8,363.7 L300.3,362.3 L300.8,360.9 L301.3,359.4 L301.8,358.0 L302.2,356.6 L302.7,355.2 L303.1,353.7 L303.5,352.3 L303.9,350.8 L304.2,349.4 L304.6,347.9 L305.0,346.4 L305.3,344.9 L305.6,343.5 L305.9,342.0 L306.3,340.5 L306.6,339.0 L306.9,337.5 L307.2,336.0 L307.4,334.5 L307.7,333.0 L308.0,331.5 L308.3,330.1 L308.5,328.6 L308.8,327.1 L309.1,325.6 L309.3,324.1 L309.6,322.6 L309.9,321.1 L310.1,319.6 L310.4,318.1 L310.7,316.6 L311.0,315.1 L311.2,313.6 L311.5,312.1 L311.8,310.7 L312.1,309.2 L312.3,307.7 L312.6,306.2 L312.9,304.7 L313.2,303.3 L313.5,301.8 L313.8,300.3 L314.0,298.9 L314.3,297.4 L314.6,295.9 L314.9,294.4 L315.2,293.0 L315.5,291.5 L315.8,290.0 L316.1,288.6 L316.4,287.1 L316.7,285.6 L316.9,284.2 L317.2,282.7 L317.5,281.2 L317.8,279.8 L318.1,278.3 L318.4,276.9 L318.7,275.4 L319.0,273.9 L319.3,272.5 L319.6,271.0 L319.9,269.6 L320.2,268.1 L320.4,266.6 L320.7,265.2 L321.0,263.7 L321.3,262.3 L321.6,260.8 L321.9,259.3 L322.2,257.9 L322.5,256.4 L322.7,255.0 L323.0,253.5 L323.3,252.0 L323.6,250.6 L323.9,249.1 L324.1,247.6 L324.4,246.2 L324.7,244.7 L325.0,243.3 L325.2,241.8 L325.5,240.3 L325.8,238.9 L326.0,237.4 L326.3,235.9 L326.6,234.4 L326.8,233.0 L327.1,231.5 L327.3,230.0 L327.6,228.6 L327.8,227.1 L328.1,225.6 L328.3,224.1 L328.6,222.6 L328.8,221.2 L329.1,219.7 L329.3,218.2 L329.5,216.7 L329.8,215.2 L330.0,213.7 L330.2,212.2 L330.5,210.8 L330.7,209.3 L330.9,207.8 L331.1,206.3 L331.4,204.8 L331.6,203.3 L331.8,201.8 L332.1,200.3 L332.3,198.8 L332.6,197.3 L332.8,195.8 L333.1,194.4 L333.4,192.9 L333.7,191.4 L334.1,190.0 L334.4,188.5 L334.8,187.0 L335.1,185.6 L335.6,184.1 L336.0,182.7 L336.4,181.3 L336.9,179.9 L337.4,178.4 L337.9,177.0 L338.5,175.6 L339.1,174.3 L339.8,173.0 L340.7,171.8 L341.7,170.8 L342.9,170.1 L344.4,169.5 L345.9,168.9 L347.0,168.1 L347.8,166.8 L348.4,165.5 L348.9,164.1 L349.2,162.6 L349.6,161.1 L349.9,159.6 L350.2,158.1 L350.6,156.6 L351.0,155.2 L351.4,153.7 L351.8,152.3 L352.2,150.8 L352.7,149.4 L353.1,148.0 L353.5,146.5 L353.8,145.1 L354.2,143.7 L354.5,142.2 L354.8,140.7 L355.1,139.3 L355.3,137.8 L355.5,136.3 L355.7,134.8 L355.8,133.3 L356.0,131.8 L356.1,130.3 L356.2,128.8 L356.3,127.3 L356.5,125.8 L356.6,124.3 L356.7,122.8 L356.8,121.3 L356.9,119.8 L357.0,118.3 L357.1,116.8 L357.3,115.3 L357.4,113.8 L357.6,112.4 L357.7,110.9 L357.9,109.4 L358.1,107.9 L358.3,106.4 L358.4,105.0 L358.6,103.5 L358.8,102.0 L359.0,100.5 L359.2,99.0 L359.4,97.6 L359.6,96.1 L359.8,94.6 L360.0,93.1 L360.2,91.6 L360.5,90.1 L360.7,88.6 L360.9,87.1 L361.2,85.6 L361.4,84.1 L361.8,82.6 L362.2,81.2 L362.6,79.8 L363.2,78.4 L363.8,77.0 L364.6,75.7 L365.5,74.5 L366.5,73.3 L367.6,72.2 L368.9,71.5 L370.2,71.2 L371.5,71.6 L372.9,72.4 L374.1,73.4 L375.3,74.6 L376.2,75.8 L377.1,77.1 L377.9,78.3 L378.7,79.6 L379.4,80.9 L380.1,82.2 L380.8,83.5 L381.5,84.9 L382.1,86.2 L382.8,87.5 L383.4,88.9 L384.0,90.2 L384.6,91.6 L385.1,93.0 L385.7,94.4 L386.2,95.7 L386.7,97.1 L387.2,98.5 L387.7,99.9 L388.1,101.3 L388.6,102.8 L389.0,104.2 L389.5,105.6 L389.9,107.0 L390.3,108.5 L390.7,109.9 L391.1,111.4 L391.5,112.8 L391.8,114.3 L392.2,115.7 L392.5,117.2 L392.9,118.7 L393.2,120.1 L393.6,121.6 L393.9,123.1 L394.2,124.5 L394.5,126.0 L394.8,127.5 L395.1,129.0 L395.4,130.4 L395.7,131.9 L396.0,133.4 L396.3,134.9 L396.6,136.4 L396.9,137.9 L397.2,139.3 L397.5,140.8 L397.8,142.3 L398.1,143.8 L398.4,145.3 L398.7,146.8 L399.0,148.2 L399.3,149.7 L399.6,151.2 L400.0,152.7 L400.3,154.1 L400.6,155.6 L400.9,157.1 L401.2,158.6 L401.5,160.0 L401.8,161.5 L402.1,163.0 L402.4,164.5 L402.8,165.9 L403.1,167.4 L403.4,168.9 L403.7,170.4 L404.0,171.8 L404.3,173.3 L404.7,174.8 L405.0,176.2 L405.3,177.7 L405.6,179.2 L405.9,180.6 L406.2,182.1 L406.6,183.6 L406.9,185.1 L407.2,186.5 L407.5,188.0 L407.8,189.5 L408.1,190.9 L408.5,192.4 L408.8,193.9 L409.1,195.3 L409.4,196.8 L409.7,198.3 L410.0,199.7 L410.3,201.2 L410.6,202.7 L410.9,204.1 L411.2,205.6 L411.5,207.0 L411.8,208.5 L412.1,210.0 L412.4,211.4 L412.7,212.9 L413.0,214.4 L413.3,215.8 L413.6,217.3 L413.9,218.8 L414.2,220.2 L414.5,221.7 L414.8,223.2 L415.1,224.6 L415.3,226.1 L415.6,227.6 L415.9,229.0 L416.2,230.5 L416.4,231.9 L416.7,233.4 L417.0,234.9 L417.2,236.3 L417.5,237.8 L417.8,239.3 L418.0,240.7 L418.3,242.2 L418.5,243.7 L418.8,245.1 L419.1,246.6 L419.3,248.1 L419.6,249.5 L419.8,251.0 L420.1,252.5 L420.3,253.9 L420.6,255.4 L420.8,256.9 L421.1,258.3 L421.3,259.8 L421.6,261.3 L421.8,262.8 L422.1,264.2 L422.3,265.7 L422.6,267.2 L422.8,268.6 L423.1,270.1 L423.3,271.6 L423.6,273.0 L423.8,274.5 L424.1,276.0 L424.3,277.5 L424.6,278.9 L424.8,280.4 L425.1,281.9 L425.3,283.3 L425.6,284.8 L425.9,286.3 L426.1,287.8 L426.4,289.2 L426.7,290.7 L426.9,292.2 L427.2,293.7 L427.5,295.1 L427.7,296.6 L428.0,298.1 L428.3,299.6 L428.6,301.0 L428.9,302.5 L429.2,304.0 L429.4,305.5 L429.7,306.9 L430.0,308.4 L430.3,309.9 L430.6,311.4 L430.9,312.8 L431.2,314.3 L431.6,315.8 L431.9,317.3 L432.2,318.8 L432.5,320.2 L432.8,321.7 L433.2,323.2 L433.5,324.7 L433.8,326.2 L434.2,327.7 L434.5,329.1 L434.9,330.6 L435.2,332.1 L435.6,333.6 L436.0,335.1 L436.3,336.6 L436.7,338.0 L437.1,339.5 L437.5,341.0 L437.9,342.5 L438.3,343.9 L438.7,345.4 L439.1,346.9 L439.6,348.3 L440.0,349.8 L440.5,351.2 L441.0,352.7 L441.4,354.1 L441.9,355.5 L442.4,357.0 L443.0,358.4 L443.5,359.8 L444.0,361.2 L444.6,362.5 L445.2,363.9 L445.8,365.3 L446.4,366.6 L447.0,368.0 L447.7,369.3 L448.3,370.6 L449.0,371.9 L449.7,373.2 L450.5,374.5 L451.2,375.7 L452.0,377.0 L452.8,378.2 L453.6,379.4 L454.4,380.6 L455.2,381.8 L456.1,383.0 L457.0,384.1 L457.9,385.2 L458.9,386.4 L459.9,387.4 L460.9,388.5 L461.9,389.6 L462.9,390.6 L464.0,391.6 L465.1,392.6 L466.2,393.6 L467.3,394.5 L468.5,395.4 L469.7,396.3 L470.9,397.2 L472.1,398.1 L473.3,399.0 L474.6,399.8 L475.8,400.6 L477.1,401.4 L478.4,402.2 L479.7,403.0 L481.0,403.7 L482.4,404.4 L483.7,405.1 L485.1,405.8 L486.5,406.5 L487.8,407.1 L489.2,407.8 L490.6,408.4 L492.0,409.0 L493.5,409.6 L494.9,410.1 L496.3,410.7 L497.8,411.2 L499.2,411.7 L500.6,412.2 L502.1,412.7 L503.5,413.1 L505.0,413.5 L506.4,414.0 L507.9,414.4 L509.4,414.8 L510.8,415.1 L512.3,415.5 L513.7,415.8 L515.2,416.1 L516.6,416.5 L518.1,416.8 L519.6,417.0 L521.0,417.3 L522.5,417.6 L524.0,417.8 L525.4,418.1 L526.9,418.3 L528.4,418.5 L529.9,418.7 L531.3,418.9 L532.8,419.1 L534.3,419.2 L535.8,419.4 L537.2,419.5 L538.7,419.7 L540.2,419.8 L541.7,420.0 L543.1,420.1 L544.6,420.2 L546.1,420.3 L547.6,420.4 L549.1,420.5 L550.6,420.6 L552.1,420.7 L553.5,420.8 L555.0,420.9 L556.5,421.0 L558.0,421.1 L559.5,421.1 L561.0,421.2 L562.5,421.3 L564.0,421.4 L565.5,421.4 L567.0,421.5 L568.5,421.6 L570.0,421.6 L571.5,421.7 L573.0,421.8 L574.5,421.8 L576.0,421.9 L577.5,421.9 L579.0,422.0 L580.5,422.0 L582.0,422.1 L583.5,422.2 L585.0,422.2 L586.5,422.3 L588.0,422.3 L589.5,422.4 L591.0,422.4 L592.5,422.4 L594.0,422.5 L595.5,422.5 L597.0,422.6 L598.5,422.6 L600.0,422.7 L601.5,422.7 L603.0,422.7 L604.5,422.8 L606.1,422.8 L607.6,422.8 L609.1,422.9 L610.6,422.9 L612.1,422.9 L613.6,423.0 L615.1,423.0 L616.6,423.0 L618.1,423.0 L619.6,423.1 L621.1,423.1 L622.6,423.1 L624.1,423.1 L625.6,423.2 L627.1,423.2 L628.6,423.2 L630.1,423.2 L631.6,423.2 L633.1,423.2 L634.6,423.3 L636.1,423.3 L637.6,423.3 L639.1,423.3 L640.6,423.3 L642.1,423.3 L643.6,423.3 L645.1,423.4 L646.6,423.4 L648.1,423.4 L649.5,423.4 L651.0,423.4 L652.5,423.4 L654.0,423.4 L655.5,423.4 L657.0,423.4" stroke="#008b00"/>
</g>
<path d="M48.45,436.55 v-12 M48.45,10.5 v12 M200.6,436.55 v-12 M200.6,10.5 v12 M352.75,436.55 v-12 M352.75,10.5 v12 M504.9,436.55 v-12 M504.9,10.5 v12 M657.05,436.55 v-12 M657.05,10.5 v12 M124.525,436.55 v-6 M124.525,10.5 v6 M276.675,436.55 v-6 M276.675,10.5 v6 M428.825,436.55 v-6 M428.825,10.5 v6 M580.975,436.55 v-6 M580.975,10.5 v6 M48.45,436.55 h12 M657.05,436.55 h-12 M48.45,365.542 h12 M657.05,365.542 h-12 M48.45,294.533 h12 M657.05,294.533 h-12 M48.45,223.525 h12 M657.05,223.525 h-12 M48.45,152.517 h12 M657.05,152.517 h-12 M48.45,81.5083 h12 M657.05,81.5083 h-12 M48.45,10.5 h12 M657.05,10.5 h-12 M48.45,401.046 h6 M657.05,401.046 h-6 M48.45,330.038 h6 M657.05,330.038 h-6 M48.45,259.029 h6 M657.05,259.029 h-6 M48.45,188.021 h6 M657.05,188.021 h-6 M48.45,117.012 h6 M657.05,117.012 h-6 M48.45,46.0042 h6 M657.05,46.0042 h-6" stroke="#000" stroke-width="1.1" fill="none"/>
<rect x="48.45" y="10.5" width="608.6" height="426.05" fill="none" stroke="#000" stroke-width="2.1" stroke-linejoin="round"/>
<text class="tk" x="48.45" y="460.3" text-anchor="middle">-2</text>
<text class="tk" x="200.6" y="460.3" text-anchor="middle">-1</text>
<text class="tk" x="352.75" y="460.3" text-anchor="middle">0</text>
<text class="tk" x="504.9" y="460.3" text-anchor="middle">1</text>
<text class="tk" x="657.05" y="460.3" text-anchor="middle">2</text>
<text class="tk" x="43.7" y="445.4" text-anchor="end">0</text>
<text class="tk" x="43.7" y="374.4" text-anchor="end">1</text>
<text class="tk" x="43.7" y="303.4" text-anchor="end">2</text>
<text class="tk" x="43.7" y="232.4" text-anchor="end">3</text>
<text class="tk" x="43.7" y="161.4" text-anchor="end">4</text>
<text class="tk" x="43.7" y="90.4" text-anchor="end">5</text>
<text class="tk" x="43.7" y="19.4" text-anchor="end">6</text>
<text x="328.4" y="482.5" style="font-size:28.5px">ω</text><text x="346.2" y="482.5">/W</text>
<g transform="translate(18.6,245.7) rotate(-90)"><text x="-1.85" y="0" style="font-size:28.5px">ρ</text><text x="13.0" y="0">(</text><text x="21.06" y="0" style="font-size:28.5px">ω</text><text x="38.65" y="0">)</text></g>
<text x="137" y="218.3">increasing J</text>
<path d="M199.8,315.5 L293.9,196.4 M287.0,199.9 L293.9,196.4 L292.0,203.9" fill="none" stroke="#000" stroke-width="2" stroke-linejoin="round"/>
<rect x="413.5" y="41" width="179.2" height="126.2" fill="#fff" stroke="#000" stroke-width="1.1"/>
<path d="M426.5,56 H463.3" stroke="#000" stroke-width="2" fill="none"/>
<text x="481.3" y="63.5">J/W=0.7</text>
<path d="M426.5,80 H463.3" stroke="#f00" stroke-width="2" fill="none"/>
<text x="481.3" y="87.5">J/W=0.85</text>
<path d="M426.5,104 H463.3" stroke="#0f0" stroke-width="2" fill="none"/>
<text x="481.3" y="111.5">J/W=1</text>
<path d="M426.5,128 H463.3" stroke="#00f" stroke-width="2" fill="none"/>
<text x="481.3" y="135.5">J/W=1.1</text>
<path d="M426.5,152 H463.3" stroke="#008b00" stroke-width="2" fill="none"/>
<text x="481.3" y="159.5">J/W=1.25</text>
</svg></body></html>
